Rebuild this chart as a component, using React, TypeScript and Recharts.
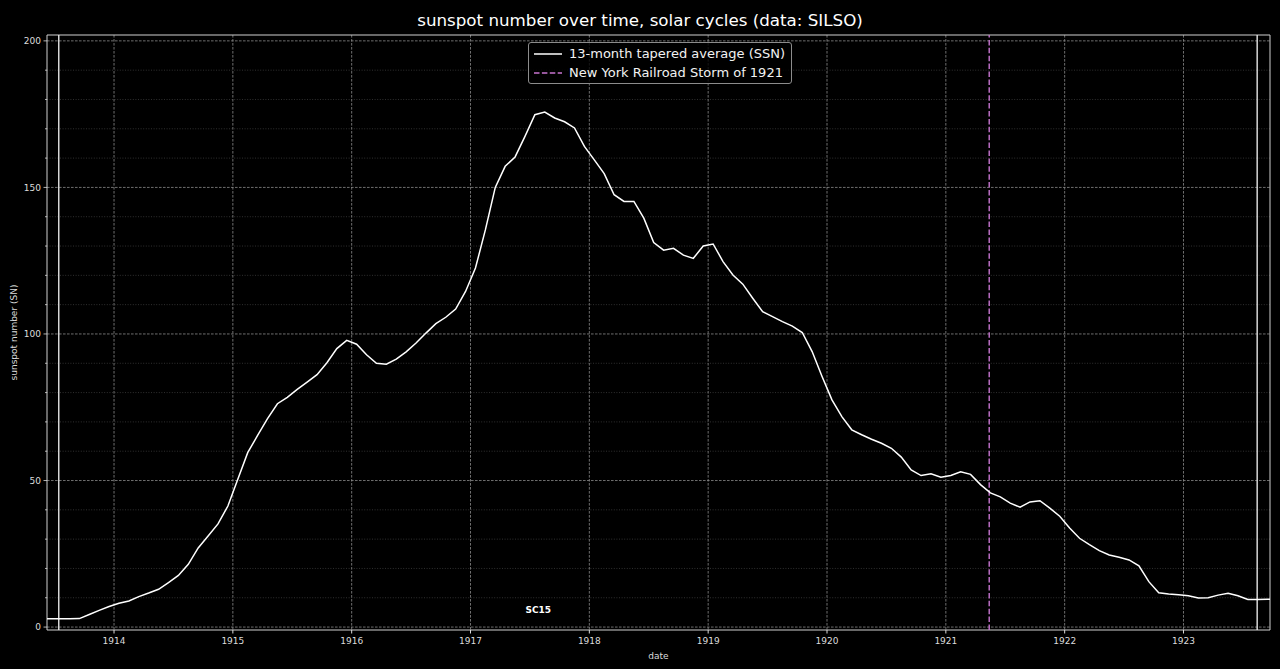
import React from "react";
import {
  CartesianGrid,
  Legend,
  Line,
  LineChart,
  ReferenceArea,
  ReferenceDot,
  ReferenceLine,
  XAxis,
  YAxis,
} from "recharts";

// monthly 13-month tapered SSN (1913 starts in May, 1923 ends in October)
const ssn1913 = [2.8, 2.8, 2.8, 2.8, 2.9, 4.3, 5.7, 7.0];
const ssn1914 = [8.1, 8.9, 10.4, 11.6, 12.9, 15.2, 17.6, 21.4, 27.0, 31.1, 35.2, 41.3];
const ssn1915 = [50.4, 59.5, 65.4, 71.1, 76.2, 78.4, 81.1, 83.6, 86.1, 90.2, 95.0, 97.8];
const ssn1916 = [96.5, 92.9, 90.0, 89.7, 91.4, 93.9, 96.9, 100.3, 103.5, 105.7, 108.5, 114.5];
const ssn1917 = [122.5, 135.5, 150.0, 157.2, 160.4, 167.4, 174.8, 175.7, 173.7, 172.4, 170.3, 164.0];
const ssn1918 = [159.4, 154.7, 147.5, 145.2, 145.2, 139.5, 131.2, 128.6, 129.2, 126.9, 125.8, 130.0];
const ssn1919 = [130.7, 124.7, 120.1, 117.0, 112.2, 107.6, 105.9, 104.2, 102.7, 100.5, 94.0, 85.5];
const ssn1920 = [77.5, 71.8, 67.3, 65.6, 64.1, 62.7, 61.0, 58.0, 53.6, 51.7, 52.3, 51.1];
const ssn1921 = [51.7, 53.0, 52.1, 48.6, 45.8, 44.4, 42.3, 40.9, 42.7, 43.1, 40.6, 37.8];
const ssn1922 = [33.8, 30.3, 28.1, 26.1, 24.6, 23.8, 22.9, 20.9, 15.5, 11.7, 11.3, 11.0];
const ssn1923 = [10.7, 9.9, 10.0, 10.9, 11.5, 10.7, 9.4, 9.4, 9.5, 9.5];

const yearSeries = [
  { year: 1913, firstMonth: 5, values: ssn1913 },
  { year: 1914, firstMonth: 1, values: ssn1914 },
  { year: 1915, firstMonth: 1, values: ssn1915 },
  { year: 1916, firstMonth: 1, values: ssn1916 },
  { year: 1917, firstMonth: 1, values: ssn1917 },
  { year: 1918, firstMonth: 1, values: ssn1918 },
  { year: 1919, firstMonth: 1, values: ssn1919 },
  { year: 1920, firstMonth: 1, values: ssn1920 },
  { year: 1921, firstMonth: 1, values: ssn1921 },
  { year: 1922, firstMonth: 1, values: ssn1922 },
  { year: 1923, firstMonth: 1, values: ssn1923 },
];

const yearTicks = [1914, 1915, 1916, 1917, 1918, 1919, 1920, 1921, 1922, 1923];
const majorY = [0, 50, 100, 150, 200];
const minorY = [10, 20, 30, 40, 60, 70, 80, 90, 110, 120, 130, 140, 160, 170, 180, 190];

const cycleBounds = [1913.535, 1923.62];
const stormDate = 1921.365;
const cycleLabels = [{ name: "SC15", t: 1917.57, y: 5.8 }];

const X_DOMAIN: [number, number] = [1913.436, 1923.728];
const Y_DOMAIN: [number, number] = [-1, 202];

// mid-month decimal dates
const data = yearSeries.flatMap((s) =>
  s.values.map((v, i) => ({ t: s.year + (s.firstMonth - 1 + i + 0.5) / 12, ssn: v }))
);

const FONT = '"DejaVu Sans", Verdana, sans-serif';
const TICK = "#dcdcdc";
const STORM = "#c774d0";

const YTick = (props: any) => {
  const { x, y, payload } = props;
  const major = payload.value % 50 === 0;
  return (
    <g>
      <line x1={x - (major ? 3.5 : 2)} x2={x} y1={y} y2={y} stroke={TICK} strokeWidth={0.8} />
      {major && (
        <text x={x - 6} y={y} dy="0.35em" textAnchor="end" fill={TICK} fontSize={9} fontFamily={FONT}>
          {payload.value}
        </text>
      )}
    </g>
  );
};

const LegendBox = () => (
  <div
    style={{
      border: "1px solid #8c8c8c",
      borderRadius: 3,
      background: "rgba(0,0,0,0.8)",
      padding: "1px 6px 1px 4px",
      fontFamily: FONT,
      fontSize: 13,
      color: "#f2f2f2",
      lineHeight: "19px",
    }}
  >
    <div style={{ display: "flex", alignItems: "center" }}>
      <svg width={36} height={10}>
        <line x1={1} x2={29} y1={5} y2={5} stroke="#fff" strokeWidth={1.5} />
      </svg>
      <span>13-month tapered average (SSN)</span>
    </div>
    <div style={{ display: "flex", alignItems: "center" }}>
      <svg width={36} height={10}>
        <line x1={1} x2={29} y1={5} y2={5} stroke={STORM} strokeWidth={1.5} strokeDasharray="5.5 2.4" />
      </svg>
      <span>New York Railroad Storm of 1921</span>
    </div>
  </div>
);

export default function App() {
  return (
    <div
      style={{
        position: "absolute",
        left: 0,
        top: 0,
        width: 1280,
        height: 669,
        background: "#000",
        fontFamily: FONT,
      }}
    >
      <div
        style={{
          position: "absolute",
          top: 10,
          width: 1280,
          textAlign: "center",
          color: "#fff",
          fontSize: 16.7,
          fontFamily: FONT,
        }}
      >
        sunspot number over time, solar cycles (data: SILSO)
      </div>
      <LineChart width={1280} height={669} data={data} margin={{ top: 35, right: 10, bottom: 0, left: 0 }}>
        <CartesianGrid
          horizontalValues={minorY}
          vertical={false}
          stroke="#3c3c3c"
          strokeDasharray="1 1.6"
          strokeWidth={0.8}
        />
        <CartesianGrid
          horizontalValues={majorY}
          verticalValues={yearTicks}
          stroke="#8a8a8a"
          strokeDasharray="2.6 1.4"
          strokeWidth={0.8}
        />
        <XAxis
          type="number"
          dataKey="t"
          domain={X_DOMAIN}
          allowDataOverflow
          ticks={yearTicks}
          tickFormatter={(v) => String(Math.round(v))}
          height={39}
          axisLine={false}
          tickSize={3.5}
          tickMargin={4}
          stroke={TICK}
          tick={{ fill: TICK, fontSize: 9, fontFamily: FONT }}
          label={{ value: "date", position: "insideBottom", offset: 10, fill: TICK, fontSize: 9, fontFamily: FONT }}
        />
        <YAxis
          type="number"
          domain={Y_DOMAIN}
          allowDataOverflow
          ticks={[...majorY, ...minorY].sort((a, b) => a - b)}
          width={47}
          axisLine={false}
          tickLine={false}
          tickSize={0}
          tickMargin={0}
          tick={<YTick />}
          label={{
            content: (p: any) => {
              const vb = p.viewBox;
              const cy = vb.y + vb.height / 2;
              return (
                <text
                  x={14}
                  y={cy}
                  transform={`rotate(-90 14 ${cy})`}
                  textAnchor="middle"
                  dominantBaseline="central"
                  fill={TICK}
                  fontSize={9}
                  fontFamily={FONT}
                >
                  sunspot number (SN)
                </text>
              );
            },
          }}
        />
        {cycleBounds.map((t) => (
          <ReferenceLine key={t} x={t} stroke="#e6e6e6" strokeWidth={1.4} />
        ))}
        <ReferenceLine x={stormDate} stroke={STORM} strokeWidth={1.4} strokeDasharray="5.5 2.4" />
        <Line
          type="linear"
          dataKey="ssn"
          stroke="#ffffff"
          strokeWidth={1.5}
          dot={false}
          activeDot={false}
          isAnimationActive={false}
        />
        {cycleLabels.map((c) => (
          <ReferenceDot
            key={c.name}
            x={c.t}
            y={c.y}
            r={0}
            fill="none"
            stroke="none"
            label={{ value: c.name, position: "center", fill: "#fff", fontSize: 9, fontWeight: "bold", fontFamily: FONT }}
          />
        ))}
        <ReferenceArea
          x1={X_DOMAIN[0]}
          x2={X_DOMAIN[1]}
          y1={Y_DOMAIN[0]}
          y2={Y_DOMAIN[1]}
          fill="none"
          stroke="#d0d0d0"
          strokeWidth={1}
        />
        <Legend
          layout="vertical"
          align="center"
          verticalAlign="middle"
          wrapperStyle={{ position: "absolute", left: 528, top: 42, width: "auto", height: "auto" }}
          content={<LegendBox />}
        />
      </LineChart>
    </div>
  );
}
